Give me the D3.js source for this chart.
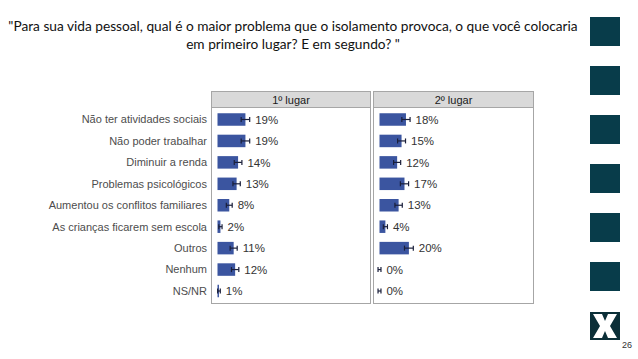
<!DOCTYPE html>
<html>
<head>
<meta charset="utf-8">
<script src="https://cdn.jsdelivr.net/npm/d3@7"></script>
<style>
  html, body { margin: 0; padding: 0; background: #ffffff; }
  svg { display: block; }
</style>
</head>
<body>
<svg id="chart" width="638" height="359"></svg>
<script>
// ---- data ----
const titleLines = [
  "\"Para sua vida pessoal, qual é o maior problema que o isolamento provoca, o que você colocaria",
  "em primeiro lugar? E em segundo? \""
];
const categories = [
  "Não ter atividades sociais",
  "Não poder trabalhar",
  "Diminuir a renda",
  "Problemas psicológicos",
  "Aumentou os conflitos familiares",
  "As crianças ficarem sem escola",
  "Outros",
  "Nenhum",
  "NS/NR"
];
const panels = ["1º lugar", "2º lugar"];
const firstPlace  = [19, 19, 14, 13, 8, 2, 11, 12, 1];
const secondPlace = [18, 15, 12, 17, 13, 4, 20, 0, 0];
const firstErr  = [2.9, 2.9, 2.6, 2.5, 2.0, 1.1, 2.4, 2.5, 0.9];
const secondErr = [2.8, 2.7, 2.4, 2.8, 2.5, 1.4, 3.0, 1.0, 1.0];
const pageNumber = "26";

// ---- layout ----
const svg = d3.select("#chart");
const panelBoxes = [
  { x0: 211, x1: 370 },
  { x0: 373, x1: 533 }
];
const headerTop = 91, headerBottom = 107, plotBottom = 303;
const barColor = "#3b55a0";
const errColor = "#1a1f3a";

// title
svg.append("g").selectAll("text").data(titleLines).join("text")
  .attr("x", 293)
  .attr("y", (d, i) => 31 + i * 18)
  .attr("text-anchor", "middle")
  .attr("font-family", "Lato, 'Open Sans', sans-serif")
  .attr("font-size", 13.7)
  .attr("fill", "#111111")
  .text(d => d);

// y scale
const y = d3.scalePoint().domain(categories).range([119.5, 291]);
const barH = 12.5;

// category labels
svg.append("g").selectAll("text").data(categories).join("text")
  .attr("x", 207)
  .attr("y", d => y(d))
  .attr("dy", "0.35em")
  .attr("text-anchor", "end")
  .attr("font-family", "'Liberation Sans', Arial, sans-serif")
  .attr("font-size", 11)
  .attr("fill", "#4d4d4d")
  .text(d => d);

const seriesList = [
  { vals: firstPlace, errs: firstErr },
  { vals: secondPlace, errs: secondErr }
];

panels.forEach((name, p) => {
  const box = panelBoxes[p];
  const g = svg.append("g");
  const x = d3.scaleLinear().domain([0, 100]).range([box.x0 + 6.5, box.x0 + 6.5 + 147]);

  g.append("rect")
    .attr("x", box.x0 + 0.5).attr("y", headerBottom + 0.5)
    .attr("width", box.x1 - box.x0).attr("height", plotBottom - headerBottom)
    .attr("fill", "#ffffff").attr("stroke", "#a6a6a6").attr("stroke-width", 1);
  g.append("rect")
    .attr("x", box.x0 + 0.5).attr("y", headerTop + 0.5)
    .attr("width", box.x1 - box.x0).attr("height", headerBottom - headerTop)
    .attr("fill", "#d9d9d9").attr("stroke", "#a6a6a6").attr("stroke-width", 1);
  g.append("text")
    .attr("x", (box.x0 + box.x1) / 2 + 0.5)
    .attr("y", (headerTop + headerBottom) / 2 + 1)
    .attr("dy", "0.35em")
    .attr("text-anchor", "middle")
    .attr("font-family", "'Liberation Sans', Arial, sans-serif")
    .attr("font-size", 11)
    .attr("fill", "#1a1a1a")
    .text(name);

  const s = seriesList[p];
  const data = categories.map((c, i) => ({ c, v: s.vals[i], e: s.errs[i] }));

  g.append("g").selectAll("rect").data(data).join("rect")
    .attr("x", x(0))
    .attr("y", d => y(d.c) - barH / 2)
    .attr("width", d => x(d.v) - x(0))
    .attr("height", barH)
    .attr("fill", barColor);

  const eg = g.append("g").attr("stroke", errColor).attr("stroke-width", 1.2).attr("fill", "none");
  data.forEach(d => {
    const cy = y(d.c);
    const lo = x(d.v - d.e), hi = x(d.v + d.e);
    eg.append("line").attr("x1", lo).attr("x2", hi).attr("y1", cy).attr("y2", cy);
    eg.append("line").attr("x1", lo).attr("x2", lo).attr("y1", cy - 2.5).attr("y2", cy + 2.5);
    eg.append("line").attr("x1", hi).attr("x2", hi).attr("y1", cy - 2.5).attr("y2", cy + 2.5);
  });

  g.append("g").selectAll("text").data(data).join("text")
    .attr("x", d => x(d.v + d.e) + 5.5)
    .attr("y", d => y(d.c))
    .attr("dy", "0.36em")
    .attr("font-family", "'Liberation Sans', Arial, sans-serif")
    .attr("font-size", 11.5)
    .attr("fill", "#333333")
    .text(d => d.v + "%");
});

// decorative squares on the right
const squareYs = [17, 66, 115, 164, 213, 262];
svg.append("g").selectAll("rect").data(squareYs).join("rect")
  .attr("x", 590).attr("y", d => d)
  .attr("width", 30).attr("height", 29)
  .attr("fill", "#083c4a");

const logo = svg.append("g").attr("transform", "translate(590,312)");
logo.append("rect").attr("width", 30).attr("height", 28).attr("fill", "#0b2f38");
logo.append("path")
  .attr("d", "M3,2 L12,2 L15,9 L18,2 L27,2 L20,14 L27,26 L18,26 L15,19 L12,26 L3,26 L10,14 Z")
  .attr("fill", "#ffffff");

svg.append("text")
  .attr("x", 622).attr("y", 348)
  .attr("font-family", "'Liberation Sans', Arial, sans-serif")
  .attr("font-size", 9)
  .attr("fill", "#333333")
  .text(pageNumber);
</script>
</body>
</html>
